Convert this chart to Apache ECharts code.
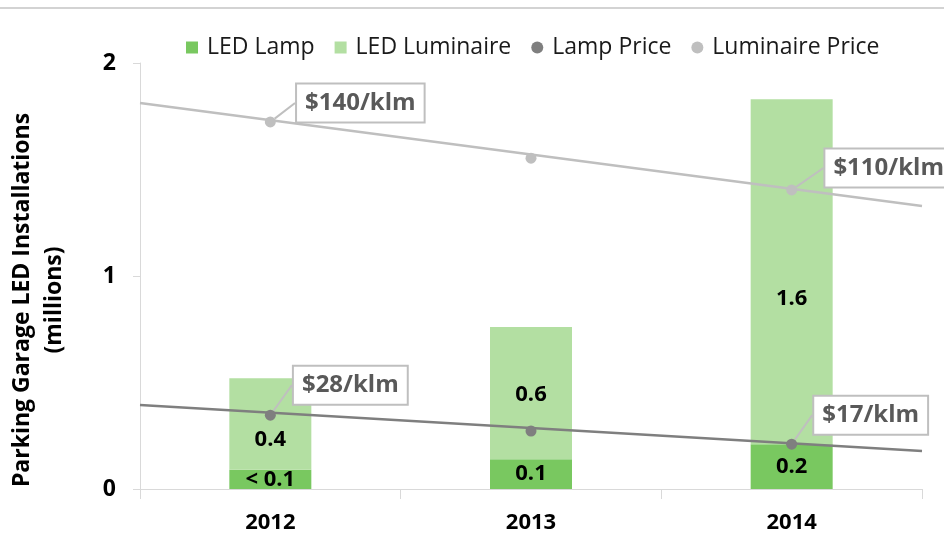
<!DOCTYPE html>
<html>
<head>
<meta charset="utf-8">
<title>Parking Garage LED Installations</title>
<script src="https://cdn.jsdelivr.net/npm/echarts@6/dist/echarts.min.js"></script>
<style>
  html, body { margin: 0; padding: 0; background: #fff; }
  #chart { width: 944px; height: 539px; }
</style>
</head>
<body>
<div id="chart"></div>
<script>
// Installations (millions) and prices ($/klm) by year
const years = ['2012', '2013', '2014'];
const ledLamp = [0.09, 0.14, 0.21];
const ledLuminaire = [0.43, 0.62, 1.62];
const lampPrice = [28, 22, 17];
const luminairePrice = [140, 124, 110];
// linear trend of each price series, at the plot edges (category positions -0.5 and 2.5)
const lampPriceTrend = [[-0.5, 31.9], [2.5, 14.4]];
const luminairePriceTrend = [[-0.5, 148.4], [2.5, 102.9]];
const yTicks = [0, 1, 2];

const FONT = '"Open Sans", "Noto Sans", sans-serif';
const AXIS_GRAY = '#d9d9d9';
const LAMP_GREEN = '#79c860';
const LUM_GREEN = '#b3dfa2';
const LAMP_GRAY = '#7f7f7f';
const LUM_GRAY = '#bfbfbf';

const barLabel = {
  show: true,
  position: 'inside',
  fontFamily: FONT,
  fontWeight: 'bold',
  fontSize: 22,
  color: '#000',
  formatter: p => (p.value < 0.1 ? '< 0.1' : p.value.toFixed(1))
};

// vertical nudges for the luminaire value labels
const lumLabelShift = [16, 2, 27];

const callout = {
  show: true,
  position: 'inside',
  fontFamily: FONT,
  fontWeight: 'bold',
  fontSize: 24,
  color: '#595959',
  backgroundColor: '#fff',
  borderColor: '#bfbfbf',
  borderWidth: 2,
  padding: [7, 8, 6, 8],
  formatter: p => '$' + p.value + '/klm'
};

// callouts only on the first and last year
const calloutShown = [true, false, true];
const lampCalloutShift = [[80, -30], [0, 0], [79, -29]];
const lumCalloutShift = [[90, -19], [0, 0], [97, -22]];

function priceData(values) {
  return values.map((v, i) => ({ value: v, label: { show: calloutShown[i] } }));
}

const chart = echarts.init(document.getElementById('chart'), null, { renderer: 'canvas' });

chart.setOption({
  animation: false,
  backgroundColor: '#fff',
  textStyle: { fontFamily: FONT },
  graphic: [{
    type: 'line',
    shape: { x1: 0, y1: 8, x2: 944, y2: 8 },
    style: { stroke: '#c4c4c4', lineWidth: 1.5 },
    silent: true
  }],
  legend: {
    left: 181,
    top: 31,
    itemWidth: 12,
    itemHeight: 12,
    itemGap: 20,
    textStyle: { fontFamily: FONT, fontSize: 23, color: '#1a1a1a', padding: [0, 0, 0, 4] },
    data: [
      { name: 'LED Lamp', icon: 'rect' },
      { name: 'LED Luminaire', icon: 'rect' },
      { name: 'Lamp Price', icon: 'circle' },
      { name: 'Luminaire Price', icon: 'circle' }
    ]
  },
  grid: { left: 140, right: 22, top: 63, bottom: 50, outerBoundsMode: 'none' },
  xAxis: [{
    type: 'category',
    data: years,
    axisLine: { lineStyle: { color: AXIS_GRAY, width: 1 } },
    axisTick: { show: true, length: 10, interval: 0, lineStyle: { color: AXIS_GRAY } },
    axisLabel: { margin: 23, fontFamily: FONT, fontWeight: 'bold', fontSize: 22, color: '#000' },
    splitLine: { show: false }
  }, {
    type: 'value',
    min: -0.5,
    max: 2.5,
    show: false
  }],
  yAxis: [{
    type: 'value',
    min: yTicks[0],
    max: yTicks[yTicks.length - 1],
    interval: yTicks[1] - yTicks[0],
    name: 'Parking Garage LED Installations\n(millions)',
    nameLocation: 'middle',
    nameRotate: 90,
    nameGap: 70,
    nameTextStyle: {
      fontFamily: FONT, fontWeight: 'bold', fontSize: 23, color: '#000', lineHeight: 32,
      padding: [0, 48, 0, 0]
    },
    axisLine: { show: true, onZero: false, lineStyle: { color: AXIS_GRAY, width: 1 } },
    axisTick: { show: true, length: 7, lineStyle: { color: AXIS_GRAY } },
    axisLabel: { margin: 24, fontFamily: FONT, fontWeight: 'bold', fontSize: 23, color: '#000' },
    splitLine: { show: false }
  }, {
    // luminaire price scale
    type: 'value', min: -21.9, max: 166.0, show: false
  }, {
    // lamp price scale
    type: 'value', min: 0, max: 161.6, show: false
  }],
  series: [{
    name: 'LED Lamp',
    type: 'bar',
    stack: 'installs',
    barWidth: 82,
    itemStyle: { color: LAMP_GREEN },
    label: barLabel,
    data: ledLamp
  }, {
    name: 'LED Luminaire',
    type: 'bar',
    stack: 'installs',
    barWidth: 82,
    itemStyle: { color: LUM_GREEN },
    label: barLabel,
    data: ledLuminaire.map((v, i) => ({ value: v, label: { offset: [0, lumLabelShift[i]] } }))
  }, {
    name: 'Luminaire Price trend',
    type: 'line',
    xAxisIndex: 1,
    yAxisIndex: 1,
    symbol: 'none',
    silent: true,
    lineStyle: { color: LUM_GRAY, width: 2.5 },
    data: luminairePriceTrend
  }, {
    name: 'Lamp Price trend',
    type: 'line',
    xAxisIndex: 1,
    yAxisIndex: 2,
    symbol: 'none',
    silent: true,
    lineStyle: { color: LAMP_GRAY, width: 2.5 },
    data: lampPriceTrend
  }, {
    name: 'Luminaire Price',
    type: 'scatter',
    yAxisIndex: 1,
    symbolSize: 11,
    itemStyle: { color: LUM_GRAY, opacity: 1 },
    label: callout,
    labelLine: { show: true, lineStyle: { color: '#bfbfbf', width: 2 } },
    labelLayout: p => ({ dx: lumCalloutShift[p.dataIndex][0], dy: lumCalloutShift[p.dataIndex][1] }),
    z: 5,
    data: priceData(luminairePrice)
  }, {
    name: 'Lamp Price',
    type: 'scatter',
    yAxisIndex: 2,
    symbolSize: 11,
    itemStyle: { color: LAMP_GRAY, opacity: 1 },
    label: callout,
    labelLine: { show: true, lineStyle: { color: '#bfbfbf', width: 2 } },
    labelLayout: p => ({ dx: lampCalloutShift[p.dataIndex][0], dy: lampCalloutShift[p.dataIndex][1] }),
    z: 5,
    data: priceData(lampPrice)
  }]
});
</script>
</body>
</html>
